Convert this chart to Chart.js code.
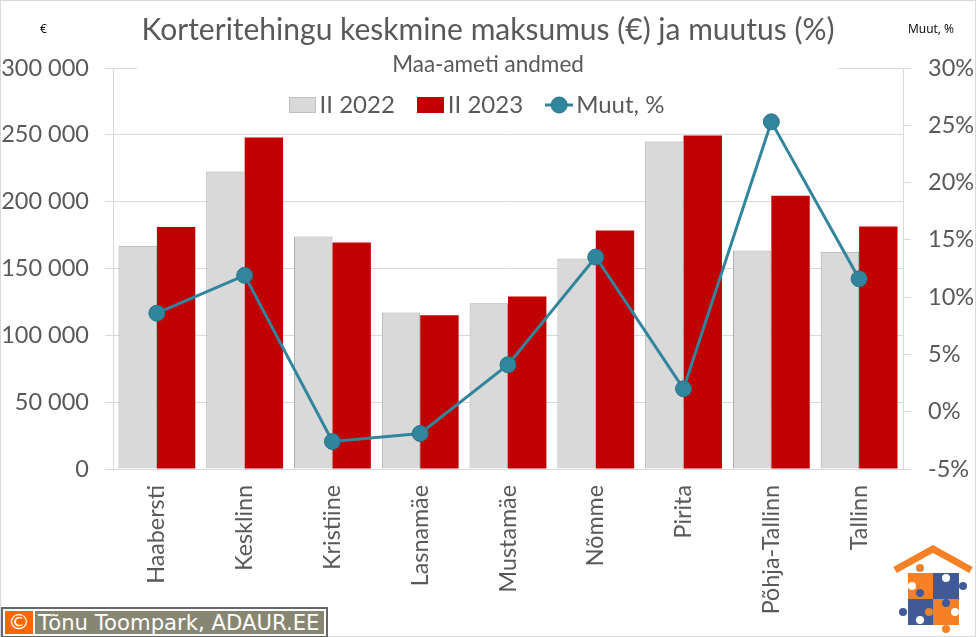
<!DOCTYPE html>
<html><head><meta charset="utf-8">
<script src="https://cdn.jsdelivr.net/npm/chart.js@4/dist/chart.umd.js"></script>
<style>
html,body{margin:0;padding:0;background:#fff;overflow:hidden}
#wrap{position:relative;width:976px;height:637px;overflow:hidden}
canvas{display:block}
.frame{position:absolute;left:0;top:0;width:974px;height:635px;border:1px solid #d9d9d9;pointer-events:none}
.corner{position:absolute;top:20px;font:12px "Open Sans",sans-serif;color:#000;white-space:nowrap}
#credit{position:absolute;left:1px;top:607px;width:323px;height:27px;box-sizing:content-box;border:2px solid #666;background:#fff;display:flex;padding:0}
#credit .c{background:#ff6600;color:#fff;width:28px;margin:2px 1px 2px 2px;font:22px "DejaVu Sans",sans-serif;line-height:22px;text-align:center}
#credit .t{flex:1;background:#868672;color:#fff;margin:2px 2px 2px 1px;font:21.2px "DejaVu Sans",sans-serif;line-height:23px;padding-left:3px;white-space:nowrap;overflow:hidden}
#logo{position:absolute;left:892px;top:544px}
</style></head><body>
<div id="wrap">
<canvas id="c" width="976" height="637"></canvas>
<div class="frame"></div>
<div class="corner" style="left:40px">€</div>
<div class="corner" style="left:908px">Muut, %</div>
<div id="credit"><div class="c">©</div><div class="t">Tõnu Toompark, ADAUR.EE</div></div>
<svg id="logo" width="84" height="92" viewBox="0 0 84 92">
<polyline points="3,26 41,5 79,26" fill="none" stroke="#f58025" stroke-width="7"/>
<rect x="16" y="29" width="25" height="26" fill="#f58025"/>
<rect x="41" y="29" width="26" height="26" fill="#3f5a96"/>
<rect x="16" y="55" width="25" height="26" fill="#3f5a96"/>
<rect x="41" y="55" width="26" height="26" fill="#f58025"/>
<circle cx="28" cy="24" r="4" fill="#f58025"/><circle cx="20" cy="42" r="4" fill="#fff"/>
<circle cx="54" cy="34" r="4" fill="#fff"/><circle cx="71" cy="42" r="4" fill="#3f5a96"/>
<circle cx="28" cy="49" r="4" fill="#3f5a96"/><circle cx="11" cy="68" r="4" fill="#3f5a96"/>
<circle cx="37" cy="68" r="4" fill="#f58025"/><circle cx="28" cy="76" r="4" fill="#fff"/>
<circle cx="54" cy="59" r="4" fill="#3f5a96"/><circle cx="63" cy="68" r="4" fill="#fff"/>
<circle cx="54" cy="85" r="4" fill="#f58025"/>
</svg>
</div>
<script>
const categories=["Haabersti","Kesklinn","Kristiine","Lasnamäe","Mustamäe","Nõmme","Pirita","Põhja-Tallinn","Tallinn"];
const values2022=[167000,222500,174000,117000,124000,157500,245000,163500,162500];
const values2023=[181000,248000,169500,115000,129000,178500,249500,204500,181500];
const change=[8.6,11.9,-2.6,-1.9,4.1,13.5,2.0,25.3,11.6];
const leftTicks=[0,50000,100000,150000,200000,250000,300000];
const rightTicks=[-5,0,5,10,15,20,25,30];
const GREY='#595959',FONT='Lato',AXIS='#d9d9d9';
function swatch(fill,stroke){const c=document.createElement('canvas');c.width=27;c.height=16;const x=c.getContext('2d');
 x.fillStyle=fill;x.fillRect(0,0,27,16);if(stroke){x.strokeStyle=stroke;x.lineWidth=1;x.strokeRect(.5,.5,26,15);}return c;}
function lineSwatch(){const c=document.createElement('canvas');c.width=28;c.height=20;const x=c.getContext('2d');
 x.strokeStyle='#31859c';x.lineWidth=3;x.beginPath();x.moveTo(0,10);x.lineTo(28,10);x.stroke();
 x.fillStyle='#31859c';x.strokeStyle='#2a7288';x.lineWidth=1;x.beginPath();x.arc(14,10,8,0,7);x.fill();x.stroke();return c;}
const swatches={'II 2022':swatch('#d9d9d9','#bfbfbf'),'II 2023':swatch('#c00000'),'Muut, %':lineSwatch()};
const legendOrder=['II 2022','II 2023','Muut, %'];
const overlays={id:'overlays',
 beforeLayout(chart){const l=chart.legend;if(l&&!l._wrapped){const f=l.fit.bind(l);l.fit=function(){f();this.height=0;};l._wrapped=true;}},
 beforeDraw(chart){const l=chart.legend;l.top=62;l.bottom=135;if(!l._shifted){l.left-=7;l.right-=7;l._shifted=true;}},
 beforeDatasetsDraw(chart){const c=chart.ctx,a=chart.chartArea,y=Math.round(chart.scales.y.getPixelForValue(300000))+.5;
  c.save();c.strokeStyle=AXIS;c.lineWidth=1;c.beginPath();c.moveTo(a.left,y);c.lineTo(137,y);c.moveTo(838,y);c.lineTo(a.right,y);c.stroke();c.restore();}
};
new Chart(document.getElementById('c'),{
 data:{labels:categories,datasets:[
  {type:'line',label:'Muut, %',data:change,yAxisID:'y1',order:0,borderColor:'#31859c',backgroundColor:'#31859c',borderWidth:3,tension:0,
   pointRadius:8,pointHoverRadius:8,pointBackgroundColor:'#31859c',pointBorderColor:'#2a7288',pointBorderWidth:1},
  {type:'bar',label:'II 2022',data:values2022,yAxisID:'y',order:1,backgroundColor:'#d9d9d9',borderColor:'#a6a6a6',borderWidth:1,categoryPercentage:.875,barPercentage:1},
  {type:'bar',label:'II 2023',data:values2023,yAxisID:'y',order:2,backgroundColor:'#c00000',borderWidth:0,categoryPercentage:.875,barPercentage:1}
 ]},
 options:{responsive:false,animation:false,devicePixelRatio:1,
  layout:{padding:0},
  plugins:{
   title:{display:true,text:'Korteritehingu keskmine maksumus (€) ja muutus (%)',color:GREY,font:{family:FONT,size:30,weight:'normal'},padding:{top:12,bottom:0}},
   subtitle:{display:true,text:'Maa-ameti andmed',color:GREY,font:{family:FONT,size:22.5,weight:'normal'},padding:{top:3,bottom:-10}},
   legend:{display:true,position:'top',labels:{color:GREY,font:{family:FONT,size:24},usePointStyle:true,pointStyleWidth:10,padding:31,
     sort:(a,b)=>legendOrder.indexOf(a.text)-legendOrder.indexOf(b.text),
     generateLabels(chart){return Chart.defaults.plugins.legend.labels.generateLabels(chart).map(it=>{it.pointStyle=swatches[it.text];return it;});}}},
   tooltip:{enabled:false}
  },
  scales:{
   x:{offset:true,grid:{display:true,drawOnChartArea:false,drawTicks:false,color:AXIS},border:{color:AXIS},
     ticks:{color:GREY,font:{family:FONT,size:23.3},minRotation:90,maxRotation:90,autoSkip:false,padding:16},
     afterFit(s){s.height=168;}},
   y:{position:'left',min:0,max:300000,
     afterBuildTicks(s){s.ticks=leftTicks.map(v=>({value:v}));},
     grid:{color:c=>c.tick&&c.tick.value===300000?'transparent':AXIS,tickColor:AXIS,tickLength:8},border:{color:AXIS},
     ticks:{color:GREY,font:{family:FONT,size:23.5},padding:16,callback:v=>String(v).replace(/\B(?=(\d{3})+$)/g,' ')},
     afterFit(s){s.width=113;}},
   y1:{position:'right',min:-5,max:30,
     afterBuildTicks(s){s.ticks=rightTicks.map(v=>({value:v}));},
     grid:{drawOnChartArea:false,color:AXIS,tickLength:8},border:{color:AXIS},
     ticks:{color:GREY,font:{family:FONT,size:23.5},padding:17,callback:v=>v+'%'},
     afterFit(s){s.width=73;}}
  }
 },
 plugins:[overlays]
});
</script>
</body></html>
